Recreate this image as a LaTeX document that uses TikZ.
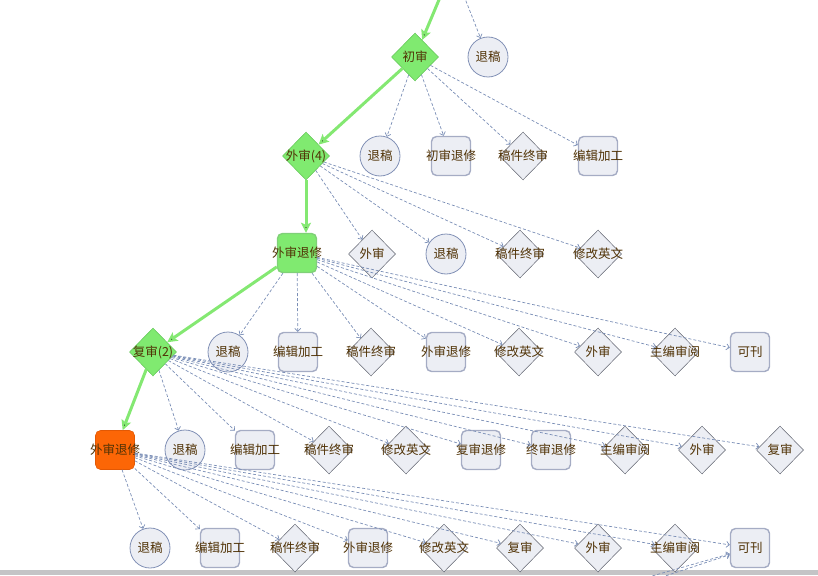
\documentclass[tikz,border=0pt]{standalone}
\usepackage{fontspec}
\setmainfont{Noto Sans CJK SC}
\usetikzlibrary{shapes.geometric,arrows.meta}
\definecolor{txtbrown}{RGB}{80,50,5}
\definecolor{nodefill}{RGB}{236,238,244}
\definecolor{boxline}{RGB}{165,172,196}
\definecolor{dialine}{RGB}{95,98,110}
\definecolor{circline}{RGB}{130,145,182}
\definecolor{edgeblue}{RGB}{122,142,182}
\definecolor{okgreen}{RGB}{128,234,112}
\definecolor{greenline}{RGB}{96,196,86}
\definecolor{flowgreen}{RGB}{132,232,114}
\definecolor{hotorange}{RGB}{252,102,6}
\definecolor{orangeline}{RGB}{226,88,4}
\definecolor{bargray}{RGB}{196,196,198}
\newcommand{\nt}[1]{\makebox[0pt]{#1}}

\begin{document}
\begin{tikzpicture}
  [x=1pt,y=-1pt,
   every node/.style={font=\fontsize{12.5}{12.5}\selectfont,text=txtbrown,inner sep=0pt},
   rnd/.style={circle,draw=circline,fill=nodefill,line width=0.8pt,minimum size=40pt},
   boxnode/.style={rectangle,rounded corners=5pt,draw=boxline,fill=nodefill,line width=1.4pt,minimum size=39pt},
   dia/.style={diamond,draw=dialine,fill=nodefill,line width=0.5pt,minimum width=47pt,minimum height=48pt},
   okdia/.style={dia,draw=greenline,fill=okgreen},
   dline/.style={draw=edgeblue,line width=0.7pt,dash pattern=on 3pt off 2pt,>={Straight Barb[length=3pt,width=6pt]}},
   gline/.style={draw=flowgreen,line width=3pt,>={Stealth[length=10pt,width=10pt,inset=2pt]}}]
\useasboundingbox (0,0) rectangle (818,575);
\fill [bargray] (0,570) rectangle (818,575);

\coordinate (t1) at (441,-5);
\coordinate (t2) at (464,-4);
\coordinate (b1) at (638,580);
\coordinate (b2) at (647,582);

\node (n01)[okdia] at (415,57) {\nt{初审}};
\node (n02)[rnd] at (488,57) {\nt{退稿}};

\node (n11)[okdia] at (306,156) {\nt{外审(4)}};
\node (n12)[rnd] at (380,156) {\nt{退稿}};
\node (n13)[boxnode] at (451,156) {\nt{初审退修}};
\node (n14)[dia] at (523,156) {\nt{稿件终审}};
\node (n15)[boxnode] at (598,156) {\nt{编辑加工}};

\node (n21)[boxnode,draw=greenline!80,fill=okgreen] at (297,253) {\nt{外审退修}};
\node (n22)[dia] at (372,254) {\nt{外审}};
\node (n23)[rnd] at (446,254) {\nt{退稿}};
\node (n24)[dia] at (520,254) {\nt{稿件终审}};
\node (n25)[dia] at (598,254) {\nt{修改英文}};

\node (n31)[okdia] at (153,352) {\nt{复审(2)}};
\node (n32)[rnd] at (228,352) {\nt{退稿}};
\node (n33)[boxnode] at (298,352) {\nt{编辑加工}};
\node (n34)[dia] at (371,352) {\nt{稿件终审}};
\node (n35)[boxnode] at (446,352) {\nt{外审退修}};
\node (n36)[dia] at (519,352) {\nt{修改英文}};
\node (n37)[dia] at (598,352) {\nt{外审}};
\node (n38)[dia] at (675,352) {\nt{主编审阅}};
\node (n39)[boxnode] at (750,352) {\nt{可刊}};

\node (n41)[boxnode,line width=0.6pt,draw=orangeline,fill=hotorange] at (115,450) {\nt{外审退修}};
\node (n42)[rnd] at (185,450) {\nt{退稿}};
\node (n43)[boxnode] at (255,450) {\nt{编辑加工}};
\node (n44)[dia] at (329,450) {\nt{稿件终审}};
\node (n45)[dia] at (406,450) {\nt{修改英文}};
\node (n46)[boxnode] at (481,450) {\nt{复审退修}};
\node (n47)[boxnode] at (551,450) {\nt{终审退修}};
\node (n48)[dia] at (625,450) {\nt{主编审阅}};
\node (n49)[dia] at (702,450) {\nt{外审}};
\node (n410)[dia] at (780,450) {\nt{复审}};

\node (n51)[rnd] at (150,548) {\nt{退稿}};
\node (n52)[boxnode] at (220,548) {\nt{编辑加工}};
\node (n53)[dia] at (295,548) {\nt{稿件终审}};
\node (n54)[boxnode] at (368,548) {\nt{外审退修}};
\node (n55)[dia] at (444,548) {\nt{修改英文}};
\node (n56)[dia] at (520,548) {\nt{复审}};
\node (n57)[dia] at (598,548) {\nt{外审}};
\node (n58)[dia] at (675,548) {\nt{主编审阅}};
\node (n59)[boxnode] at (750,548) {\nt{可刊}};

 \path [dline] (t2) edge [->] (n02);
 \path [dline] (n01) edge [->] (n12) edge [->] (n13) edge [->] (n14) edge [->] (n15);
 \path [dline] (n11) edge [->] (n22) edge [->] (n23) edge [->] (n24) edge [->] (n25);
 \path [dline] (n21) edge [->] (n32) edge [->] (n33) edge [->] (n34) edge [->] (n35)
   edge [->] (n36) edge [->] (n37) edge [->] (n38) edge [->] (n39);
 \path [dline] (n31) edge [->] (n42) edge [->] (n43) edge [->] (n44) edge [->] (n45)
   edge [->] (n46) edge [->] (n47) edge [->] (n48) edge [->] (n49) edge [->] (n410);
 \path [dline] (n41) edge [->] (n51) edge [->] (n52) edge [->] (n53) edge [->] (n54)
   edge [->] (n55) edge [->] (n56) edge [->] (n57) edge [->] (n58) edge [->] (n59);
 \path [dline] (b1) edge [->] (n59) (b2) edge [->] (n59);

 \path [gline] (t1) edge [->] (n01);
 \path [gline] (n01) edge [->] (n11);
 \path [gline] (n11.south) edge [->] (n11 |- n21.north);
 \path [gline] (n21) edge [->] (n31);
 \path [gline] (n31) edge [->] (n41);
\end{tikzpicture}
\end{document}
